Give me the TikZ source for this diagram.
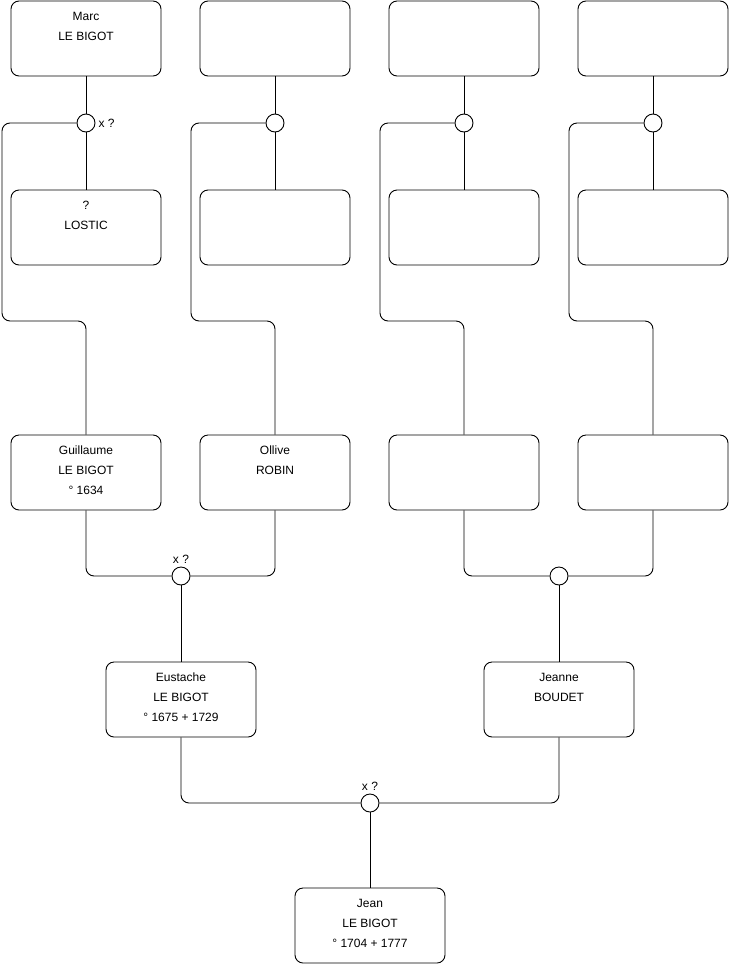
\documentclass[tikz,border=0pt]{standalone}
\usepackage{fontspec}
\setmainfont{Liberation Sans}
\usetikzlibrary{positioning}

\begin{document}
\begin{tikzpicture}[
      x=1pt, y=-1pt,
      person/.style={rectangle, draw, line width=0.9pt, rounded corners=8pt, minimum width=150pt, minimum height=75pt, inner sep=0pt},
      who/.style={anchor=north, align=center, inner xsep=0pt, inner ysep=11pt, font=\fontsize{12}{20}\selectfont},
      wed/.style={circle, draw, line width=0.9pt, fill=white, minimum size=18pt, inner sep=0pt},
      note/.style={font=\fontsize{12}{14}\selectfont, inner sep=3pt},
      link/.style={line width=0.9pt, rounded corners=8pt}
    ]
    \useasboundingbox (0,0) rectangle (740,975);

    % top generation
    \node[person] (marc) at (86,38.5) {};
    \node[who] (marcT) at (marc.north) {Marc\\LE BIGOT};
    \node[person] (gp2) at (275,38.5) {};
    \node[person] (gp3) at (464,38.5) {};
    \node[person] (gp4) at (653,38.5) {};

    \node[wed] (w1) at (86,123) {};
    \node[wed] (w2) at (275,123) {};
    \node[wed] (w3) at (464,123) {};
    \node[wed] (w4) at (653,123) {};
    \node[note, anchor=west] (w1x) at (w1.east) {x ?};

    \node[person] (lostic) at (86,227.5) {};
    \node[who] (losticT) at (lostic.north) {?\\LOSTIC};
    \node[person] (gm2) at (275,227.5) {};
    \node[person] (gm3) at (464,227.5) {};
    \node[person] (gm4) at (653,227.5) {};

    % parents of Eustache and Jeanne
    \node[person] (guil) at (86,472.5) {};
    \node[who] (guilT) at (guil.north) {Guillaume\\LE BIGOT\\° 1634};
    \node[person] (ollive) at (275,472.5) {};
    \node[who] (olliveT) at (ollive.north) {Ollive\\ROBIN};
    \node[person] (p3) at (464,472.5) {};
    \node[person] (p4) at (653,472.5) {};

    \node[wed] (w5) at (181,576) {};
    \node[wed] (w6) at (559,576) {};
    \node[note, anchor=south] (w5x) at (w5.north) {x ?};

    \node[person] (eust) at (181,699.5) {};
    \node[who] (eustT) at (eust.north) {Eustache\\LE BIGOT\\° 1675 + 1729};
    \node[person] (jeanne) at (559,699.5) {};
    \node[who] (jeanneT) at (jeanne.north) {Jeanne\\BOUDET};

    \node[wed] (w7) at (370,803) {};
    \node[note, anchor=south] (w7x) at (w7.north) {x ?};

    \node[person] (jean) at (370,925.5) {};
    \node[who] (jeanT) at (jean.north) {Jean\\LE BIGOT\\° 1704 + 1777};

    % couples of the top generation
    \draw[link] (marc) -- (w1);
    \draw[link] (w1) -- (lostic);
    \draw[link] (gp2) -- (w2);
    \draw[link] (w2) -- (gm2);
    \draw[link] (gp3) -- (w3);
    \draw[link] (w3) -- (gm3);
    \draw[link] (gp4) -- (w4);
    \draw[link] (w4) -- (gm4);

    % children
    \draw[link] (w1.west) -- (2,123) -- (2,321) -- (86,321) -- (guil.north);
    \draw[link] (w2.west) -- (191,123) -- (191,321) -- (275,321) -- (ollive.north);
    \draw[link] (w3.west) -- (380,123) -- (380,321) -- (464,321) -- (p3.north);
    \draw[link] (w4.west) -- (569,123) -- (569,321) -- (653,321) -- (p4.north);

    \draw[link] (guil.south) |- (w5.west);
    \draw[link] (ollive.south) |- (w5.east);
    \draw[link] (w5) -- (eust);
    \draw[link] (p3.south) |- (w6.west);
    \draw[link] (p4.south) |- (w6.east);
    \draw[link] (w6) -- (jeanne);

    \draw[link] (eust.south) |- (w7.west);
    \draw[link] (jeanne.south) |- (w7.east);
    \draw[link] (w7) -- (jean);
  \end{tikzpicture}
\end{document}
